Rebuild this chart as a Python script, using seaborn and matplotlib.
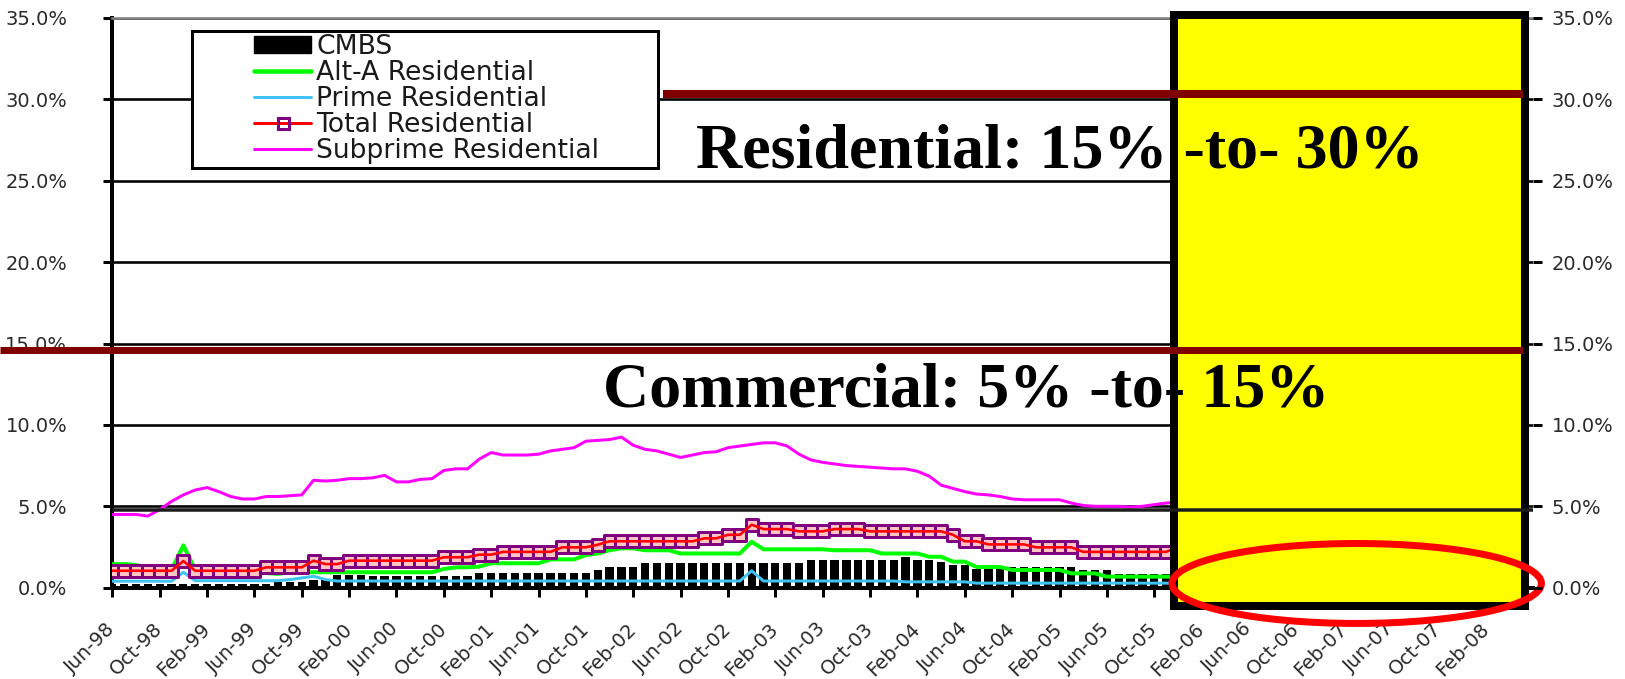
import numpy as np
import pandas as pd
import matplotlib
matplotlib.use("Agg")
import matplotlib.pyplot as plt
import seaborn as sns
from matplotlib.patches import Rectangle, Ellipse, Patch
from matplotlib.lines import Line2D
from matplotlib.ticker import FuncFormatter

# Monthly delinquency rates (%), one value per month starting Jun-98
cmbs = [0.22, 0.22, 0.22, 0.22, 0.20, 0.20, 0.25, 0.25, 0.25, 0.25,
        0.25, 0.25, 0.25, 0.25, 0.35, 0.35, 0.35, 0.47, 0.50, 0.78,
        0.78, 0.78, 0.72, 0.72, 0.72, 0.72, 0.72, 0.72, 0.72, 0.72,
        0.72, 0.92, 0.92, 0.92, 0.92, 0.92, 0.92, 0.92, 0.92, 0.92,
        0.92, 1.09, 1.25, 1.25, 1.25, 1.53, 1.53, 1.53, 1.53, 1.53,
        1.53, 1.53, 1.53, 1.53, 1.53, 1.53, 1.53, 1.53, 1.53, 1.70,
        1.70, 1.70, 1.70, 1.70, 1.70, 1.70, 1.70, 1.87, 1.70, 1.70,
        1.60, 1.39, 1.39, 1.13, 1.13, 1.13, 1.25, 1.25, 1.25, 1.25,
        1.25, 1.25, 1.10, 1.10, 1.10, 0.85, 0.85, 0.85, 0.85, 0.85,
        0.85, 0.85]

alt_a = [1.45, 1.45, 1.40, 1.10, 1.00, 1.10, 2.60, 1.10, 1.00, 1.00,
         1.00, 1.00, 1.00, 0.90, 0.85, 0.95, 0.95, 0.95, 0.95, 0.95,
         0.95, 0.95, 0.95, 0.95, 0.95, 0.95, 0.95, 0.95, 1.15, 1.25,
         1.25, 1.30, 1.50, 1.50, 1.50, 1.50, 1.50, 1.74, 1.74, 1.74,
         2.00, 2.10, 2.30, 2.42, 2.42, 2.30, 2.30, 2.30, 2.10, 2.10,
         2.10, 2.10, 2.10, 2.10, 2.82, 2.36, 2.36, 2.36, 2.36, 2.36,
         2.36, 2.30, 2.30, 2.30, 2.30, 2.10, 2.10, 2.10, 2.10, 1.90,
         1.90, 1.60, 1.60, 1.27, 1.27, 1.27, 1.09, 1.09, 1.09, 1.09,
         1.09, 0.88, 0.88, 0.88, 0.68, 0.68, 0.68, 0.68, 0.68, 0.68,
         0.68, 0.68]

prime = [0.40, 0.40, 0.40, 0.40, 0.40, 0.40, 0.95, 0.43, 0.43, 0.43,
         0.43, 0.43, 0.43, 0.43, 0.43, 0.50, 0.60, 0.70, 0.50, 0.41,
         0.41, 0.41, 0.41, 0.41, 0.41, 0.41, 0.41, 0.41, 0.41, 0.41,
         0.41, 0.41, 0.41, 0.41, 0.41, 0.41, 0.41, 0.41, 0.41, 0.41,
         0.41, 0.41, 0.41, 0.41, 0.41, 0.41, 0.41, 0.41, 0.41, 0.41,
         0.41, 0.41, 0.41, 0.41, 1.04, 0.41, 0.41, 0.41, 0.41, 0.41,
         0.41, 0.41, 0.41, 0.41, 0.41, 0.41, 0.41, 0.36, 0.36, 0.36,
         0.36, 0.36, 0.36, 0.28, 0.28, 0.28, 0.28, 0.28, 0.28, 0.28,
         0.28, 0.28, 0.28, 0.28, 0.28, 0.28, 0.28, 0.28, 0.28, 0.28,
         0.28, 0.28]

total = [1.04, 1.04, 1.04, 1.04, 1.04, 1.04, 1.64, 1.04, 1.04, 1.04,
         1.04, 1.04, 1.04, 1.25, 1.25, 1.25, 1.25, 1.66, 1.45, 1.45,
         1.66, 1.66, 1.66, 1.66, 1.66, 1.66, 1.66, 1.66, 1.87, 1.87,
         1.87, 2.03, 2.03, 2.20, 2.20, 2.20, 2.20, 2.20, 2.48, 2.48,
         2.48, 2.64, 2.85, 2.85, 2.85, 2.85, 2.85, 2.85, 2.85, 2.85,
         3.03, 3.03, 3.25, 3.25, 3.87, 3.60, 3.60, 3.60, 3.46, 3.46,
         3.46, 3.60, 3.60, 3.60, 3.46, 3.46, 3.46, 3.46, 3.46, 3.46,
         3.46, 3.25, 2.85, 2.85, 2.66, 2.66, 2.66, 2.66, 2.48, 2.48,
         2.48, 2.48, 2.20, 2.20, 2.20, 2.20, 2.20, 2.20, 2.20, 2.20,
         2.48, 2.48]

subprime = [4.50, 4.50, 4.50, 4.40, 4.80, 5.30, 5.70, 6.00, 6.15, 5.90,
            5.60, 5.45, 5.45, 5.60, 5.60, 5.65, 5.70, 6.60, 6.55, 6.60,
            6.70, 6.70, 6.75, 6.90, 6.50, 6.50, 6.65, 6.70, 7.20, 7.30,
            7.30, 7.90, 8.30, 8.15, 8.15, 8.15, 8.20, 8.40, 8.50, 8.60,
            9.00, 9.05, 9.10, 9.25, 8.75, 8.50, 8.40, 8.20, 8.00, 8.15,
            8.30, 8.35, 8.60, 8.70, 8.80, 8.90, 8.90, 8.70, 8.20, 7.85,
            7.70, 7.60, 7.50, 7.45, 7.40, 7.35, 7.30, 7.30, 7.15, 6.85,
            6.30, 6.10, 5.90, 5.75, 5.70, 5.60, 5.45, 5.40, 5.40, 5.40,
            5.40, 5.20, 5.05, 5.00, 5.00, 5.00, 4.95, 5.00, 5.10, 5.20,
            5.25, 5.30]

tick_labels = ["Jun-98", "Oct-98", "Feb-99", "Jun-99", "Oct-99", "Feb-00",
               "Jun-00", "Oct-00", "Feb-01", "Jun-01", "Oct-01", "Feb-02",
               "Jun-02", "Oct-02", "Feb-03", "Jun-03", "Oct-03", "Feb-04",
               "Jun-04", "Oct-04", "Feb-05", "Jun-05", "Oct-05", "Feb-06",
               "Jun-06", "Oct-06", "Feb-07", "Jun-07", "Oct-07", "Feb-08"]
y_ticks = [0, 5, 10, 15, 20, 25, 30, 35]

axis_months = 120          # Jun-98 .. May-08
label_step = 4             # a label every four months
resi_line = 30.3           # residential ceiling marker
comm_line = 14.6           # commercial ceiling marker
base_line = 4.77           # heavy rule under the 5% grid line
forecast_start = 89.7      # start of the highlighted window (months)
forecast_end = 119.35

df = pd.DataFrame({
    "month": np.arange(len(cmbs)),
    "cmbs": cmbs, "alt_a": alt_a, "prime": prime,
    "total": total, "subprime": subprime,
})

sns.set_theme(style="white")
plt.rcParams["font.family"] = ["DejaVu Sans"]

W, H, DPI = 1625, 679, 100
PX = 72 / DPI  # points per pixel

fig = plt.figure(figsize=(W / DPI, H / DPI), dpi=DPI)
fig.patch.set_facecolor("white")
x0, x1 = 112.3, 1533.1
y0, y1 = 587.7, 17.9
ax = fig.add_axes([x0 / W, 1 - y0 / H, (x1 - x0) / W, (y0 - y1) / H])
ax.set_facecolor("white")

# CMBS bars
sns.barplot(data=df, x="month", y="cmbs", native_scale=True, width=0.7,
            color="black", saturation=1, errorbar=None, ax=ax, zorder=2,
            linewidth=0)

# residential series
sns.lineplot(data=df, x="month", y="prime", color="#3ec3f2",
             linewidth=3 * PX, ax=ax, zorder=3, legend=False)
sns.lineplot(data=df, x="month", y="alt_a", color="#00ff00",
             linewidth=4 * PX, ax=ax, zorder=3.5, legend=False)
sns.lineplot(data=df, x="month", y="subprime", color="#ff00ff",
             linewidth=3 * PX, ax=ax, zorder=4, legend=False)
sns.scatterplot(data=df, x="month", y="total", marker="s",
                s=(11.5 * PX) ** 2, color="#ffc4c4", edgecolor="#800080",
                linewidth=3 * PX, ax=ax, zorder=5, legend=False)
sns.lineplot(data=df, x="month", y="total", color="#ff0000",
             linewidth=2.6 * PX, ax=ax, zorder=6, legend=False)

ax.set_xlim(0, axis_months)
ax.set_ylim(y_ticks[0], y_ticks[-1])
ax.set_xlabel("")
ax.set_ylabel("")

ax.set_xticks(np.arange(len(tick_labels)) * label_step)
ax.set_xticklabels(tick_labels)
ax.set_yticks(y_ticks)
pct = FuncFormatter(lambda v, _: f"{v:.1f}%")
ax.yaxis.set_major_formatter(pct)

ax.tick_params(axis="x", bottom=True, direction="out", length=9 * PX,
               width=3 * PX, color="black", labelsize=14,
               labelcolor="#2a2a2a", pad=21)
ax.tick_params(axis="y", left=True, right=False, labelleft=True,
               labelright=False, direction="out", length=9 * PX,
               width=3 * PX, color="black", labelsize=14,
               labelcolor="#2a2a2a", pad=26)
for lab in ax.get_xticklabels():
    lab.set_rotation(45)
    lab.set_ha("right")
    lab.set_va("center")
    lab.set_rotation_mode("anchor")

ax.yaxis.grid(True, color="black", linewidth=2.6 * PX)
ax.xaxis.grid(False)
ax.set_axisbelow(True)

for side in ("left", "bottom"):
    ax.spines[side].set_color("black")
    ax.spines[side].set_linewidth(4 * PX)
ax.spines["top"].set_color("#808080")
ax.spines["top"].set_linewidth(2.6 * PX)
ax.spines["right"].set_visible(False)

# right-hand percentage scale
ax_r = ax.twinx()
ax_r.set_ylim(y_ticks[0], y_ticks[-1])
ax_r.set_yticks(y_ticks)
ax_r.yaxis.set_major_formatter(pct)
ax_r.tick_params(axis="y", right=True, labelright=True, left=False,
                 labelleft=False, direction="out", length=9 * PX,
                 width=3 * PX, color="black", labelsize=14,
                 labelcolor="#2a2a2a", pad=7)
ax_r.grid(False)
for sp in ax_r.spines.values():
    sp.set_visible(False)
ax_r.set_ylabel("")

# highlighted window
ax.add_patch(Rectangle((forecast_start, -1.15), forecast_end - forecast_start,
                       35.17 + 1.15, facecolor="#ffff00", edgecolor="black",
                       linewidth=8 * PX, joinstyle="miter", clip_on=False,
                       zorder=10))

# reference rules
span = x1 - x0
ax.axhline(base_line, xmin=0, xmax=1, color="#1c1c1c", linewidth=3.5 * PX,
           zorder=11)
ax.axhline(resi_line, xmin=(663 - x0) / span, xmax=(1523 - x0) / span,
           color="#800000", linewidth=8 * PX, solid_capstyle="butt",
           clip_on=False, zorder=11)
ax.axhline(comm_line, xmin=-x0 / span, xmax=(1523 - x0) / span,
           color="#800000", linewidth=7 * PX, solid_capstyle="butt",
           clip_on=False, zorder=11)

ax.add_patch(Ellipse((105.1, 0.26), 31.2, 4.91, fill=False,
                     edgecolor="#ff0000", linewidth=7 * PX, clip_on=False,
                     zorder=12))

serif = ["Liberation Serif", "DejaVu Serif"]
fig.text(696 / W, 1 - 167.5 / H, "Residential: 15% -to- 30%",
         fontfamily=serif, fontweight="bold", fontsize=64 * PX,
         ha="left", va="baseline", color="black", zorder=20)
fig.text(603 / W, 1 - 406.5 / H, "Commercial: 5% -to- 15%",
         fontfamily=serif, fontweight="bold", fontsize=64 * PX,
         ha="left", va="baseline", color="black", zorder=20)

# legend
fig.add_artist(Rectangle((192 / W, 1 - 168 / H), (658 - 192) / W,
                         (168 - 31) / H, transform=fig.transFigure,
                         facecolor="white", edgecolor="black",
                         linewidth=3 * PX, zorder=14))
handles = [
    Patch(facecolor="black", edgecolor="black"),
    Line2D([], [], color="#00ff00", linewidth=4.5 * PX),
    Line2D([], [], color="#3ec3f2", linewidth=3 * PX),
    Line2D([], [], color="#ff0000", linewidth=3 * PX, marker="s",
           markersize=11 * PX, markerfacecolor="none",
           markeredgecolor="#800080", markeredgewidth=3 * PX),
    Line2D([], [], color="#ff00ff", linewidth=3 * PX),
]
labels = ["CMBS", "Alt-A Residential", "Prime Residential",
          "Total Residential", "Subprime Residential"]
fs_pt = 19.2
fs_px = fs_pt / PX
leg = fig.legend(handles, labels, loc="upper left",
                 bbox_to_anchor=(254 / W, 1 - 34 / H),
                 bbox_transform=fig.transFigure, frameon=False,
                 borderpad=0, borderaxespad=0, handlelength=57 / fs_px,
                 handleheight=0.6, handletextpad=5 / fs_px,
                 labelspacing=0.0, prop={"family": "DejaVu Sans",
                                         "size": fs_pt})
leg.set_zorder(15)
for t in leg.get_texts():
    t.set_color("#1a1a1a")

fig.savefig("out.png", dpi=DPI)
